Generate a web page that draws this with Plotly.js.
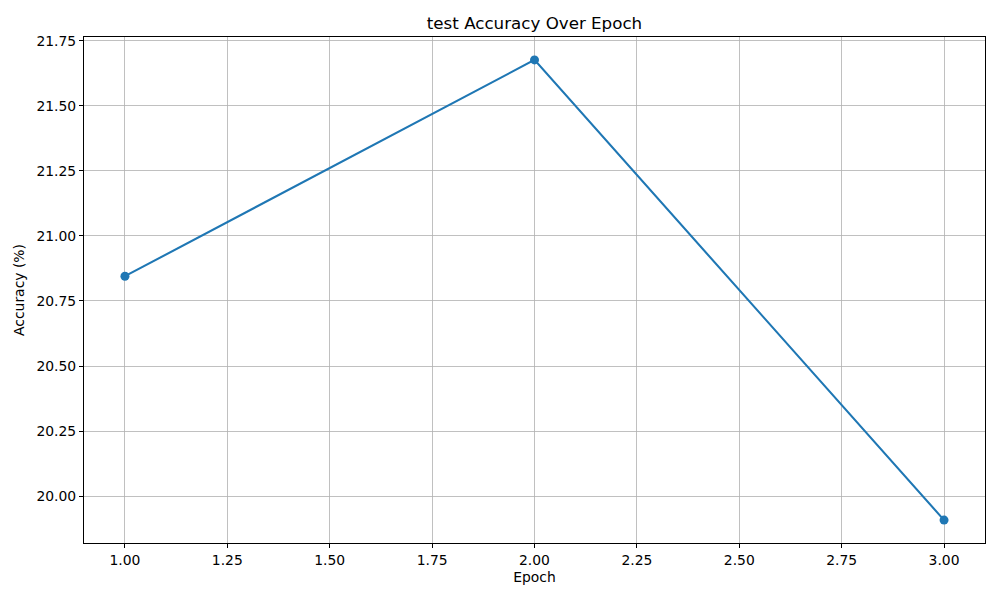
<!DOCTYPE html>
<html>
<head>
<meta charset="utf-8">
<script src="https://cdn.plot.ly/plotly-3.0.1.min.js"></script>
<style>body{margin:0;padding:0;background:#fff;}#chart{width:1000px;height:600px;}</style>
</head>
<body>
<div id="chart"></div>
<script>
const epochs = [1, 2, 3];
const accuracy = [20.845, 21.676, 19.908];
const xTicks = [1.00, 1.25, 1.50, 1.75, 2.00, 2.25, 2.50, 2.75, 3.00];
const yTicks = [20.00, 20.25, 20.50, 20.75, 21.00, 21.25, 21.50, 21.75];

const font = {family: 'DejaVu Sans, sans-serif', size: 13.9, color: '#000'};

const axisCommon = {
  showgrid: true, gridcolor: '#b0b0b0', gridwidth: 0.8,
  showline: true, linecolor: '#000', linewidth: 1, mirror: true,
  ticks: 'outside', ticklen: 4, tickwidth: 1, tickcolor: '#000',
  zeroline: false, tickfont: {family: font.family, size: 13.9, color: '#000'},
  tickmode: 'array'
};

const trace = {
  x: epochs, y: accuracy, type: 'scatter', mode: 'lines+markers',
  line: {color: '#1f77b4', width: 2.08},
  marker: {color: '#1f77b4', size: 9},
  showlegend: false, hoverinfo: 'x+y'
};

const layout = {
  width: 1000, height: 600,
  margin: {l: 84, r: 15, t: 37, b: 57},
  paper_bgcolor: '#fff', plot_bgcolor: '#fff',
  font: font,
  title: {text: 'test Accuracy Over Epoch', font: {family: font.family, size: 16.7, color: '#000'},
          x: 534.5 / 1000, xanchor: 'center', xref: 'container', y: 0.962, yanchor: 'middle'},
  xaxis: Object.assign({}, axisCommon, {
    range: [0.9, 3.1], tickvals: xTicks, ticktext: xTicks.map(v => v.toFixed(2)),
    title: {text: 'Epoch', font: font, standoff: 5}
  }),
  yaxis: Object.assign({}, axisCommon, {
    range: [19.820, 21.764], tickvals: yTicks, ticktext: yTicks.map(v => v.toFixed(2)),
    title: {text: 'Accuracy (%)', font: font, standoff: 8}
  })
};

Plotly.newPlot('chart', [trace], layout, {displayModeBar: false, staticPlot: true});
</script>
</body>
</html>
